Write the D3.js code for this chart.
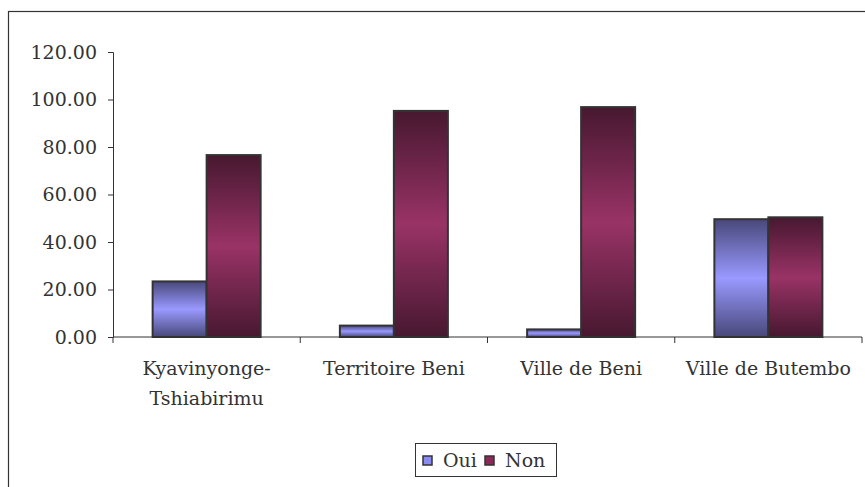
<!DOCTYPE html>
<html>
<head>
<meta charset="utf-8">
<script src="https://cdn.jsdelivr.net/npm/d3@7"></script>
<style>
  body { margin: 0; background: #fff; }
</style>
</head>
<body>
<div id="chart"></div>
<script>
// data
var categories = [["Kyavinyonge-", "Tshiabirimu"], ["Territoire Beni"], ["Ville de Beni"], ["Ville de Butembo"]];
var seriesNames = ["Oui", "Non"];
var oui = [23.4, 4.8, 3.2, 49.6];
var non = [76.6, 95.2, 96.8, 50.4];
var yTicks = [0, 20, 40, 60, 80, 100, 120];

var W = 865, H = 487;
var FONT = "DejaVu Serif, serif";
var dim = {
  left: 113,
  right: 862,
  top: 52,
  bottom: 337,
  barW: 54,
  fontSize: 19
}

var svg = d3.select("#chart").append("svg")
  .attr("width", W)
  .attr("height", H)
  .attr("font-family", FONT)
  .attr("font-size", dim.fontSize);

// gradients
var defs = svg.append("defs");
function gradient(id, edge, mid) {
  var g = defs.append("linearGradient")
    .attr("id", id)
    .attr("x1", 0).attr("y1", 0).attr("x2", 0).attr("y2", 1);
  g.append("stop").attr("offset", "0%").attr("stop-color", edge);
  g.append("stop").attr("offset", "50%").attr("stop-color", mid);
  g.append("stop").attr("offset", "100%").attr("stop-color", edge);
}
gradient("gOui", "#48487a", "#9999ff");
gradient("gNon", "#471830", "#993366");
var fills = ["url(#gOui)", "url(#gNon)"];

// outer frame
svg.append("rect")
  .attr("x", 8.5).attr("y", 11.5)
  .attr("width", 900).attr("height", 520)
  .attr("fill", "none")
  .attr("stroke", "#333")
  .attr("stroke-width", 1.2);

var x = d3.scaleBand()
  .domain(d3.range(categories.length))
  .range([dim.left, dim.right]);

var y = d3.scaleLinear()
  .domain([0, 120])
  .range([dim.bottom, dim.top]);

// y axis
var yAxis = svg.append("g")
  .attr("transform", "translate(" + dim.left + ",0)")
  .call(d3.axisLeft(y).tickValues(yTicks).tickFormat(d3.format(".2f")).tickSize(5).tickPadding(11));
yAxis.attr("font-family", FONT).attr("font-size", dim.fontSize);
yAxis.select(".domain").attr("stroke", "#333");
yAxis.selectAll(".tick line").attr("stroke", "#333");
yAxis.selectAll("text")
  .attr("font-family", FONT)
  .attr("font-size", dim.fontSize)
  .attr("fill", "#333");

// bars
var data = [oui, non];
data.forEach(function(vals, s) {
  svg.selectAll(".bar" + s)
    .data(vals)
    .enter().append("rect")
    .attr("class", "bar" + s)
    .attr("x", function(d, i) {
      return x(i) + x.bandwidth() / 2 - dim.barW + s * dim.barW;
    })
    .attr("y", function(d) { return y(d); })
    .attr("width", dim.barW)
    .attr("height", function(d) { return dim.bottom - y(d); })
    .attr("fill", fills[s])
    .attr("stroke", "#333")
    .attr("stroke-width", 2);
});

// x axis
var xAxis = svg.append("g")
  .attr("transform", "translate(0," + dim.bottom + ")");
xAxis.append("line")
  .attr("x1", dim.left).attr("x2", dim.right)
  .attr("stroke", "#333");
var bounds = d3.range(categories.length + 1).map(function(i) {
  return i < categories.length ? x(i) : x(i - 1) + x.bandwidth();
});
xAxis.selectAll(".xt")
  .data(bounds)
  .enter().append("line")
  .attr("x1", function(d) { return d; })
  .attr("x2", function(d) { return d; })
  .attr("y1", 0).attr("y2", 6)
  .attr("stroke", "#333");

categories.forEach(function(lines, i) {
  var t = xAxis.append("text")
    .attr("text-anchor", "middle")
    .attr("x", x(i) + x.bandwidth() / 2)
    .attr("y", 38)
    .attr("fill", "#333")
    .attr("font-family", FONT)
    .attr("font-size", dim.fontSize);
  lines.forEach(function(l, j) {
    t.append("tspan")
      .attr("x", x(i) + x.bandwidth() / 2)
      .attr("dy", j === 0 ? 0 : 30)
      .text(l);
  });
});

// legend
var lg = svg.append("g").attr("transform", "translate(415,443)");
lg.append("rect")
  .attr("x", 0.5).attr("y", 0.5)
  .attr("width", 141).attr("height", 33)
  .attr("fill", "#fff")
  .attr("stroke", "#333");
var legX = [8, 70];
seriesNames.forEach(function(n, s) {
  lg.append("rect")
    .attr("x", legX[s]).attr("y", 13)
    .attr("width", 9).attr("height", 9)
    .attr("fill", s === 0 ? "#8a8af0" : "#8a2a58")
    .attr("stroke", "#333")
    .attr("stroke-width", 1.5);
  lg.append("text")
    .attr("x", legX[s] + 20)
    .attr("y", 24)
    .attr("fill", "#333")
    .attr("font-family", FONT)
    .attr("font-size", dim.fontSize)
    .text(n);
});
</script>
</body>
</html>
